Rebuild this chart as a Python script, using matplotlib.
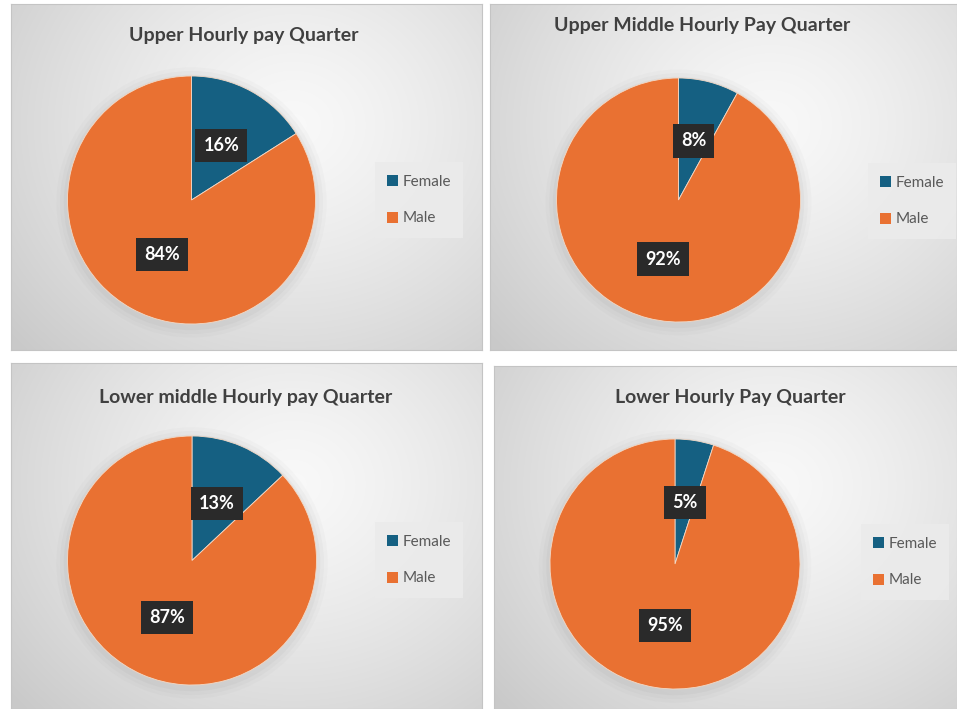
import numpy as np
import matplotlib
matplotlib.use("Agg")
import matplotlib.pyplot as plt
from matplotlib.patches import Circle

# data
titles = ["Upper Hourly pay Quarter", "Upper Middle Hourly Pay Quarter",
          "Lower middle Hourly pay Quarter", "Lower Hourly Pay Quarter"]
categories = ["Female", "Male"]
female_pct = [16, 8, 13, 5]
male_pct = [84, 92, 87, 95]

colors = ["#156082", "#E97132"]
W, H = 957, 709

# panel rects in pixels (x0, y0, x1, y1), top-left origin
panels = [(11, 4, 482, 350), (490, 4, 957, 350),
          (11, 363, 482, 709), (494, 366, 957, 709)]
pie_c = [(191.5, 200, 124), (678.5, 200, 122), (192, 560.5, 124.5), (675, 564, 125)]
title_pos = [(244, 35), (702, 25), (246, 397), (730, 398)]
legend_pos = [(419, 200), (912, 201), (419, 560), (905, 562)]

plt.rcParams['font.family'] = ['Lato', 'DejaVu Sans']

fig = plt.figure(figsize=(W / 100, H / 100), dpi=100)
fig.patch.set_facecolor("white")


def fx(x):
    return x / W


def fy(y):
    return 1 - y / H


# radial grey gradient background
def gradient(nx, ny):
    xx, yy = np.meshgrid(np.linspace(0, 1, nx), np.linspace(1, 0, ny))
    d = np.sqrt(((xx - 0.6) * 1.2) ** 2 + (yy - 0.65) ** 2)
    d = np.clip(d / 0.95, 0, 1)
    c0, c1 = 0.975, 0.79
    v = c0 + (c1 - c0) * d ** 1.3
    return np.dstack([v, v, v])


for i in range(4):
    x0, y0, x1, y1 = panels[i]
    bg = fig.add_axes([fx(x0), fy(y1), fx(x1 - x0), (y1 - y0) / H])
    bg.imshow(gradient(200, 150), aspect="auto", extent=[0, 1, 0, 1], interpolation="bilinear")
    bg.set_xlim(0, 1)
    bg.set_ylim(0, 1)
    bg.set_xticks([])
    bg.set_yticks([])
    for s in bg.spines.values():
        s.set_color("#c4c4c4")
        s.set_linewidth(0.8)

    cx, cy, r = pie_c[i]
    ax = fig.add_axes([fx(cx - r * 1.12), fy(cy + r * 1.12), fx(2 * r * 1.12), 2 * r * 1.12 / H])
    # soft shadow behind the pie
    for k, a in zip([1.09, 1.06, 1.03], [0.04, 0.05, 0.07]):
        ax.add_patch(Circle((0, -0.02), k, color="#8a8a8a", alpha=a, lw=0, zorder=0))
    wedges, texts, autotexts = ax.pie(
        [female_pct[i], male_pct[i]], colors=colors, startangle=90, counterclock=False,
        autopct="%d%%", pctdistance=0.5, radius=1,
        wedgeprops=dict(edgecolor="#f3d9c6", linewidth=0.6),
        textprops=dict(color="white", fontsize=13, fontweight="bold"))
    for t in autotexts:
        t.set_bbox(dict(boxstyle="square,pad=0.45", fc="#2a2a2a", ec="none"))
    ax.set_xlim(-1.12, 1.12)
    ax.set_ylim(-1.12, 1.12)
    ax.set_aspect("equal")

    tx, ty = title_pos[i]
    fig.text(fx(tx), fy(ty), titles[i], ha="center", va="center",
             fontsize=14, fontweight="bold", color="#404040")

    lx, ly = legend_pos[i]
    leg = fig.legend(wedges, categories, loc="center", bbox_to_anchor=(fx(lx), fy(ly)),
                     bbox_transform=fig.transFigure, frameon=True, fancybox=False,
                     fontsize=11, handlelength=0.75, handleheight=0.75, handletextpad=0.3,
                     labelspacing=1.5, borderpad=0.8, borderaxespad=0)
    leg.get_frame().set_facecolor("#ebebeb")
    leg.get_frame().set_edgecolor("none")
    leg.get_frame().set_alpha(0.9)
    for t in leg.get_texts():
        t.set_color("#595959")
    for h in leg.legend_handles:
        h.set_edgecolor("none")

fig.savefig("out.png", dpi=100, facecolor="white")
